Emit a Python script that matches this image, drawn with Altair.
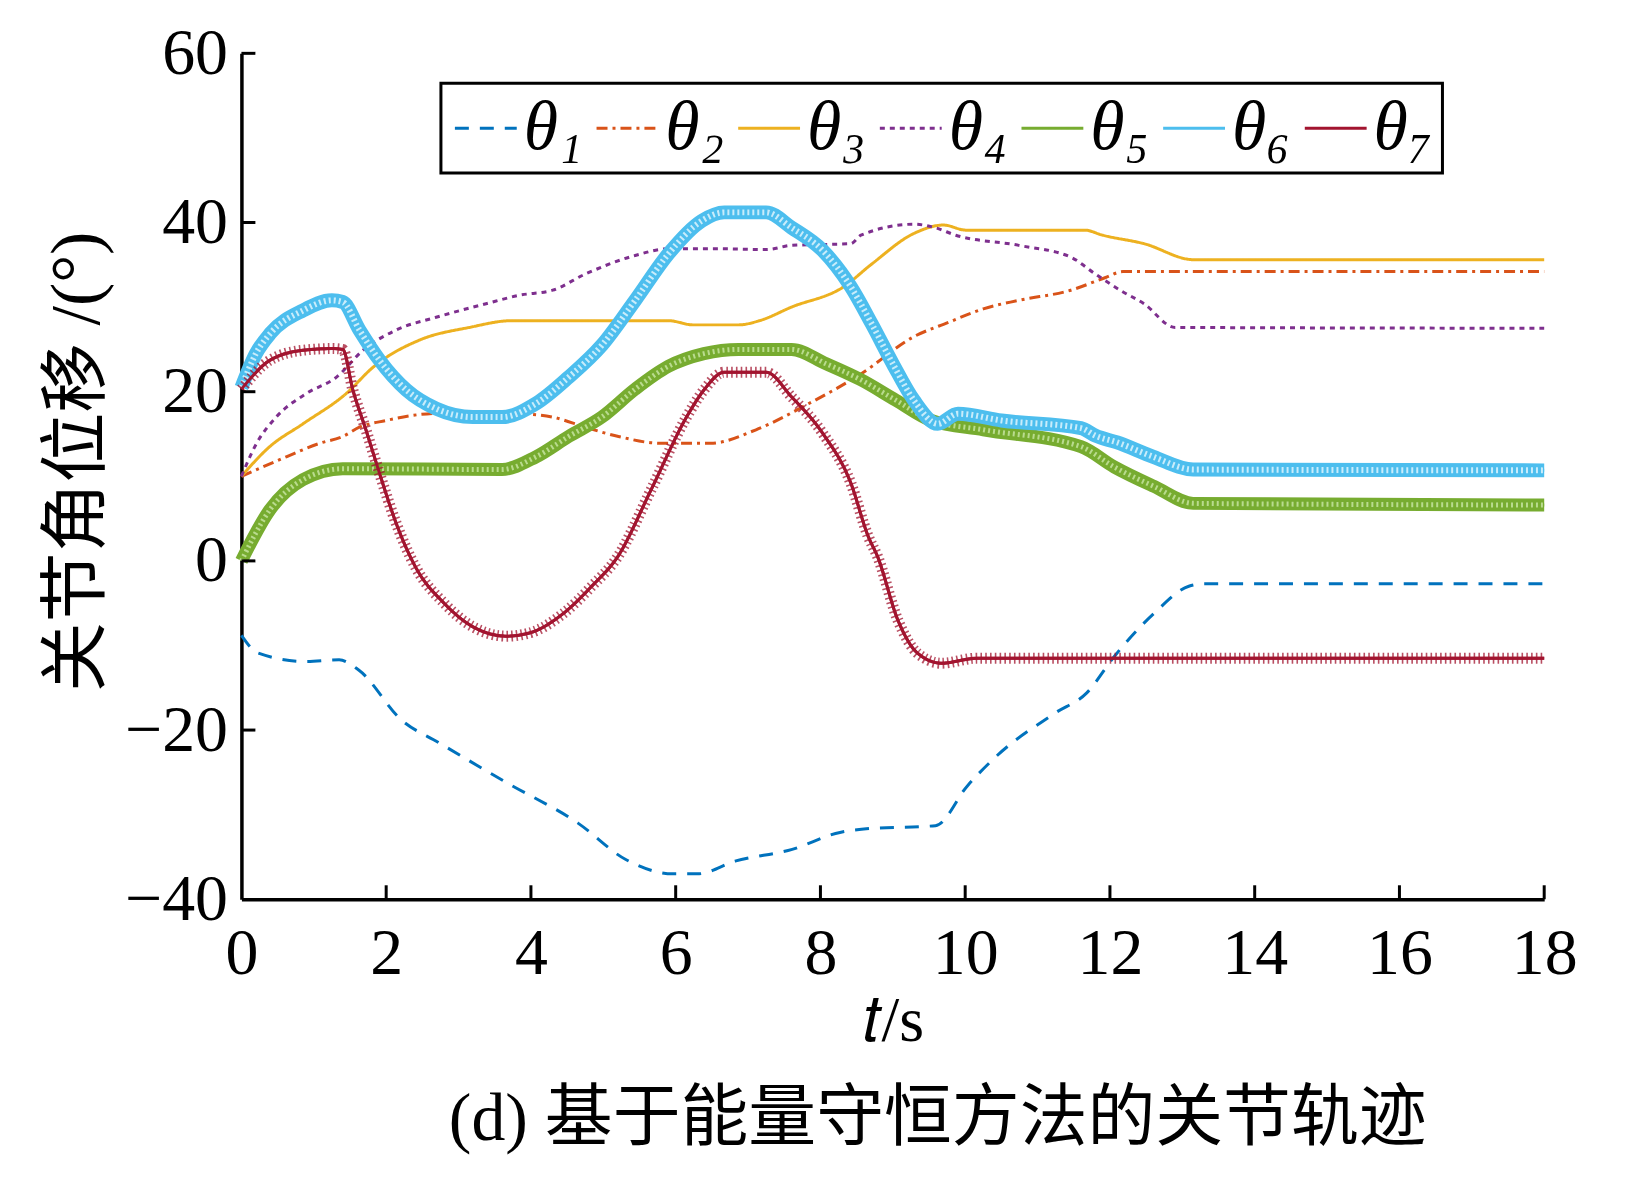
import altair as alt
import pandas as pd

NAMES = ["θ₁", "θ₂", "θ₃", "θ₄", "θ₅", "θ₆", "θ₇"]
COLORS = ["#0072BD", "#D95319", "#EDB120", "#7E2F8E", "#77AC30", "#4DBEEE", "#A2142F"]
DASHES = [[14, 11], [11, 5, 3, 5], [1, 0], [5, 5], [1, 0], [1, 0], [1, 0]]

T1 = [0, 0.23, 0.89, 1.35, 1.62, 2.21, 2.73, 3.66, 4.65, 5.31, 5.96, 6.3, 6.82, 7.61, 8.27, 8.6,
      9.59, 10.03, 10.43, 11.24, 11.68, 12.06, 12.61, 13.09, 13.31, 18]
V1 = [-8.8, -10.9, -11.9, -11.7, -12.9, -18.8, -21.5, -26.2, -31.0, -35.3, -37.0, -37.0, -35.5,
      -34.1, -32.1, -31.7, -31.3, -26.6, -23.1, -18.0, -15.6, -11.3, -6.2, -3.0, -2.7, -2.7]

T2 = [0, 0.62, 1.08, 1.4, 1.63, 2.0, 2.46, 2.92, 3.84, 4.3, 4.75, 5.21, 5.8, 6.48, 7.11, 7.84,
      8.56, 9.29, 9.77, 10.25, 10.74, 11.46, 11.94, 12.18, 18]
V2 = [10.0, 12.3, 13.9, 14.7, 15.8, 16.6, 17.3, 17.5, 17.4, 17.0, 15.8, 14.7, 13.9, 13.9, 15.5,
      18.6, 22.1, 26.5, 28.2, 29.8, 30.8, 32.0, 33.5, 34.2, 34.2]

T3 = [0, 0.39, 0.85, 1.45, 1.82, 2.46, 3.15, 3.74, 5.9, 6.24, 6.87, 7.16, 7.6, 8.32, 8.71, 9.29,
      9.7, 10.01, 11.65, 11.9, 12.47, 13.16, 18]
V3 = [10.0, 13.5, 16.2, 19.8, 22.9, 26.1, 27.6, 28.4, 28.4, 27.9, 27.9, 28.4, 30.0, 32.4, 35.1,
      38.7, 39.7, 39.1, 39.1, 38.5, 37.5, 35.6, 35.6]

T4 = [0, 0.21, 0.48, 0.9, 1.31, 1.68, 2.14, 2.69, 3.38, 3.84, 4.3, 4.75, 5.44, 5.9, 6.59, 7.26,
      7.6, 8.42, 8.56, 9.29, 9.58, 9.87, 10.74, 11.46, 11.8, 12.14, 12.47, 12.9, 18]
V4 = [10.0, 13.9, 17.0, 19.8, 21.7, 24.9, 27.3, 28.8, 30.4, 31.4, 32.0, 33.9, 36.1, 36.9, 36.9,
      36.8, 37.3, 37.5, 38.5, 39.8, 39.4, 38.5, 37.3, 35.9, 33.9, 32.0, 30.4, 27.6, 27.5]

T5 = [0, 0.39, 0.85, 1.4, 3.6, 4.07, 4.52, 4.98, 5.44, 5.9, 6.39, 6.87, 7.6, 8.08, 8.56, 9.04,
      9.53, 10.25, 11.6, 12.06, 12.61, 13.15, 18]
V5 = [0, 6.0, 9.6, 10.9, 10.8, 12.3, 14.7, 17.0, 20.3, 23.0, 24.5, 25.0, 25.0, 23.3, 21.4, 19.0,
      16.6, 15.5, 13.5, 11.1, 8.8, 6.8, 6.6]

T6 = [0, 0.2, 0.4, 0.85, 1.25, 1.4, 1.63, 1.91, 2.28, 2.69, 3.2, 3.6, 4.07, 4.52, 4.98, 5.44,
      5.9, 6.36, 6.67, 7.25, 7.6, 8.03, 8.42, 8.71, 9.0, 9.29, 9.62, 9.9, 10.5, 11.6, 11.8, 12.1,
      12.6, 13.15, 18]
V6 = [20.5, 24.5, 26.9, 29.6, 30.8, 30.6, 27.3, 23.7, 20.2, 18.0, 17.0, 17.0, 18.6, 21.7, 25.5,
      30.8, 36.3, 40.2, 41.2, 41.2, 39.4, 36.7, 32.4, 28.0, 23.3, 19.0, 16.2, 17.4, 16.6, 15.7,
      14.8, 14.0, 12.3, 10.8, 10.7]

T7 = [0, 0.39, 0.85, 1.26, 1.4, 1.54, 1.72, 1.91, 2.14, 2.41, 2.8, 3.2, 3.66, 3.99, 4.45, 4.84,
      5.2, 5.66, 6.15, 6.39, 6.67, 7.25, 7.6, 8.03, 8.42, 8.66, 8.79, 9.07, 9.34, 9.67, 10.16, 18]
V7 = [20.3, 23.7, 24.9, 25.1, 25.0, 20.2, 15.5, 10.3, 4.4, -0.8, -5.0, -7.8, -8.9, -8.5, -6.2,
      -3.0, 0.5, 8.4, 17.0, 20.2, 22.3, 22.3, 19.4, 15.1, 9.2, 2.9, 0.5, -7.0, -10.9, -12.1,
      -11.5, -11.5]

X_TICKS = [2, 4, 6, 8, 10, 12, 14, 16, 18]
Y_TICKS = [-20, 0, 20, 40, 60]
X_LABELS = [0, 2, 4, 6, 8, 10, 12, 14, 16, 18]
Y_LABELS = [-40, -20, 0, 20, 40, 60]

SERIES_T = [T1, T2, T3, T4, T5, T6, T7]
SERIES_V = [V1, V2, V3, V4, V5, V6, V7]

rows = []
for name, ts, vs in zip(NAMES, SERIES_T, SERIES_V):
    for i, (t, v) in enumerate(zip(ts, vs)):
        rows.append({"t": t, "v": v, "s": name, "o": i})
df = pd.DataFrame(rows)

W, H = 1306, 848
SERIF = "Liberation Serif, Noto Sans CJK SC"

xs = alt.Scale(domain=[0, 18], nice=False, zero=False)
ys = alt.Scale(domain=[-40, 60], nice=False, zero=False)

x_enc = alt.X("t:Q", scale=xs, axis=alt.Axis(
    values=X_LABELS, format="d", labelOverlap=False, labelFlush=False,
    ticks=False, grid=False, labelPadding=22, labelFontSize=66,
    labelFont=SERIF, title="𝑡/s", titleFont=SERIF, titleFontSize=64,
    titleFontWeight="normal", titleBaseline="alphabetic", titleY=142))
y_enc = alt.Y("v:Q", scale=ys, axis=alt.Axis(
    values=Y_LABELS, format="d", labelOverlap=False, labelFlush=False,
    ticks=False, grid=False, labelPadding=14, labelFontSize=66,
    labelFont=SERIF, title="关节角位移 /(°)", titleFont=SERIF, titleFontSize=70,
    titleFontWeight="normal", titleAngle=270, titleAlign="center",
    titleBaseline="middle", titleX=-164, titleY=409))

base = alt.Chart(df)

lines = base.mark_line(strokeWidth=3, interpolate="monotone").encode(
    x=x_enc, y=y_enc, order="o:Q",
    color=alt.Color("s:N", scale=alt.Scale(domain=NAMES, range=COLORS), title=None),
    strokeDash=alt.StrokeDash("s:N", scale=alt.Scale(domain=NAMES, range=DASHES), title=None),
)

def sel(name):
    return base.transform_filter(alt.datum.s == name)

g_band = sel("θ₅").mark_line(strokeWidth=13, color="#77AC30", interpolate="monotone").encode(
    x="t:Q", y="v:Q", order="o:Q")
g_in = sel("θ₅").mark_line(strokeWidth=5, color="#b9db8e", strokeDash=[2, 3], interpolate="monotone").encode(
    x="t:Q", y="v:Q", order="o:Q")
b_band = sel("θ₆").mark_line(strokeWidth=14, color="#4DBEEE", interpolate="monotone").encode(
    x="t:Q", y="v:Q", order="o:Q")
b_in = sel("θ₆").mark_line(strokeWidth=6, color="#c8ecfb", strokeDash=[2, 3], interpolate="monotone").encode(
    x="t:Q", y="v:Q", order="o:Q")
r_line = sel("θ₇").mark_line(strokeWidth=3, color="#A2142F", interpolate="monotone").encode(
    x="t:Q", y="v:Q", order="o:Q")
r_ticks = sel("θ₇").mark_line(strokeWidth=11, color="#A2142F", opacity=0.75, strokeDash=[1.6, 3.2],
                              interpolate="monotone").encode(x="t:Q", y="v:Q", order="o:Q")

ytick_df = pd.DataFrame({"v": Y_TICKS})
xtick_df = pd.DataFrame({"t": X_TICKS})
yticks = alt.Chart(ytick_df).mark_rule(strokeWidth=3, color="black").encode(
    y="v:Q", x=alt.value(0), x2=alt.value(14))
xticks = alt.Chart(xtick_df).mark_rule(strokeWidth=3, color="black").encode(
    x="t:Q", y=alt.value(H), y2=alt.value(H - 14))

chart = alt.layer(lines, g_band, g_in, b_band, b_in, r_ticks, r_line, yticks, xticks).properties(
    width=W, height=H,
    autosize=alt.AutoSizeParams(type="none"),
    padding={"left": 234, "top": 44, "right": 80, "bottom": 280},
    title=alt.TitleParams(text="(d) 基于能量守恒方法的关节轨迹", orient="bottom", anchor="middle",
                          font=SERIF, fontSize=68, fontWeight="normal", color="black",
                          dx=45, offset=32),
).configure_view(stroke=None).configure_axis(
    domainColor="black", domainWidth=3.5, labelColor="black", titleColor="black",
).configure_legend(
    orient="none", legendX=200, legendY=30, direction="horizontal",
    strokeColor="black", strokeWidth=3, fillColor="white", padding=10,
    symbolType="stroke", symbolSize=3844, symbolStrokeWidth=3,
    labelFont=SERIF, labelFontSize=70, labelFontStyle="italic", labelColor="black",
    labelOffset=3, columnPadding=8, labelLimit=200,
)

chart.save("out.html", embed_options={"renderer": "svg", "actions": False})
